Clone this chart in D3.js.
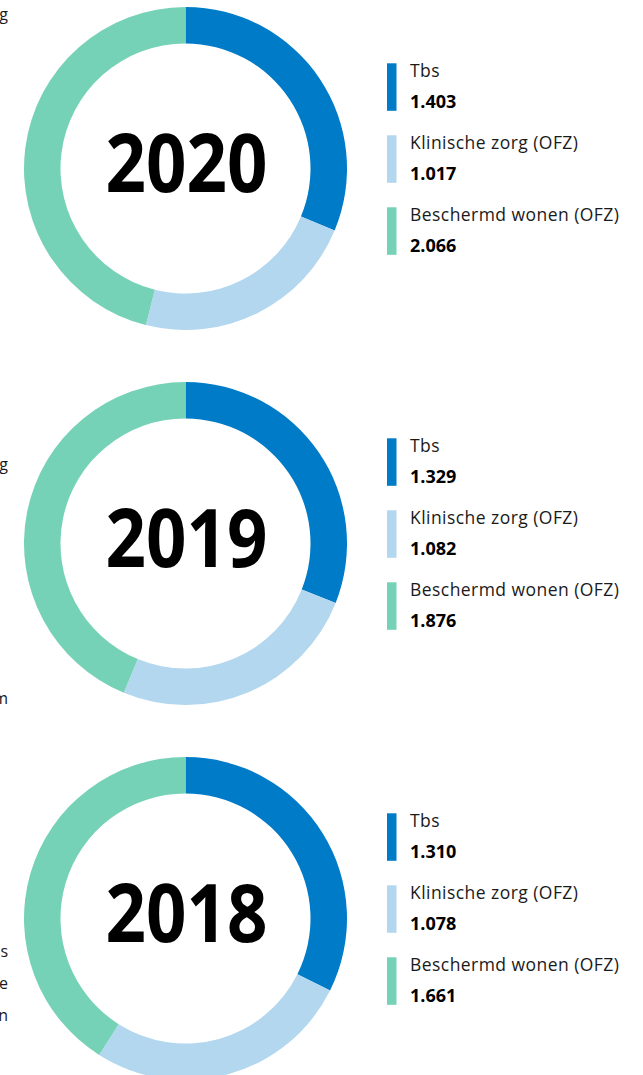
<!DOCTYPE html>
<html>
<head>
<meta charset="utf-8">
<script src="https://cdn.jsdelivr.net/npm/d3@7"></script>
<style>
  body { margin: 0; background: #fff; }
  svg { display: block; font-family: 'Open Sans', sans-serif; }
</style>
</head>
<body>
<div id="chart"></div>
<script>
const years = ['2020', '2019', '2018']
const categories = ['Tbs', 'Klinische zorg (OFZ)', 'Beschermd wonen (OFZ)']
const tbs = [1403, 1329, 1310]
const klinischeZorg = [1017, 1082, 1078]
const beschermdWonen = [2066, 1876, 1661]
const colors = ['#007bc7', '#b2d7ee', '#76d2b6']

// clipped words of the neighbouring text column
const marginText = [
  { text: 'g', y: 20 },
  { text: 'g', y: 470 },
  { text: 'm', y: 704 },
  { text: 's', y: 957 },
  { text: 'e', y: 989 },
  { text: 'n', y: 1021 },
]

const width = 643
const height = 1075
const cx = 185.5
const outerRadius = 161.5
const innerRadius = 125
const rowHeight = 375
const firstCenter = 168.5

const nl = d3.formatLocale({ decimal: ',', thousands: '.', grouping: [3], currency: ['€', ''] })
const fmt = nl.format(',d')

const svg = d3.select('#chart')
  .append('svg')
    .attr('width', width)
    .attr('height', height)

const pie = d3.pie().sort(null).value(d => d.value)
const arc = d3.arc().innerRadius(innerRadius).outerRadius(outerRadius)

years.forEach((year, i) => {
  const values = [tbs[i], klinischeZorg[i], beschermdWonen[i]]
  const data = categories.map((c, j) => ({ name: c, value: values[j], color: colors[j] }))
  const cy = firstCenter + i * rowHeight

  const g = svg.append('g')
    .attr('transform', `translate(${cx}, ${cy})`)

  g.selectAll('path')
    .data(pie(data))
    .enter()
    .append('path')
      .attr('d', arc)
      .attr('fill', d => d.data.color)

  g.append('text')
    .attr('x', -80)
    .attr('y', 23)
    .attr('font-size', 81)
    .attr('font-weight', 700)
    .attr('textLength', 162)
    .attr('lengthAdjust', 'spacingAndGlyphs')
    .attr('fill', '#000')
    .text(year)

  // legend
  const legend = svg.append('g')
    .attr('transform', `translate(387, ${cy - 105.2})`)

  const item = legend.selectAll('g')
    .data(data)
    .enter()
    .append('g')
      .attr('transform', (d, j) => `translate(0, ${j * 72})`)

  item.append('rect')
    .attr('width', 9.5)
    .attr('height', 47.5)
    .attr('fill', d => d.color)

  item.append('text')
    .attr('x', 23)
    .attr('y', 13.4)
    .attr('font-size', 17.5)
    .attr('letter-spacing', 0.45)
    .attr('fill', '#1a1a1a')
    .text(d => d.name)

  item.append('text')
    .attr('x', 23)
    .attr('y', 44.8)
    .attr('font-size', 18)
    .attr('font-weight', 700)
    .attr('fill', '#000')
    .text(d => fmt(d.value))
})

svg.append('g')
  .selectAll('text')
  .data(marginText)
  .enter()
  .append('text')
    .attr('x', 8)
    .attr('y', d => d.y)
    .attr('text-anchor', 'end')
    .attr('font-size', 16)
    .attr('fill', '#1a1a1a')
    .text(d => d.text)
</script>
</body>
</html>
